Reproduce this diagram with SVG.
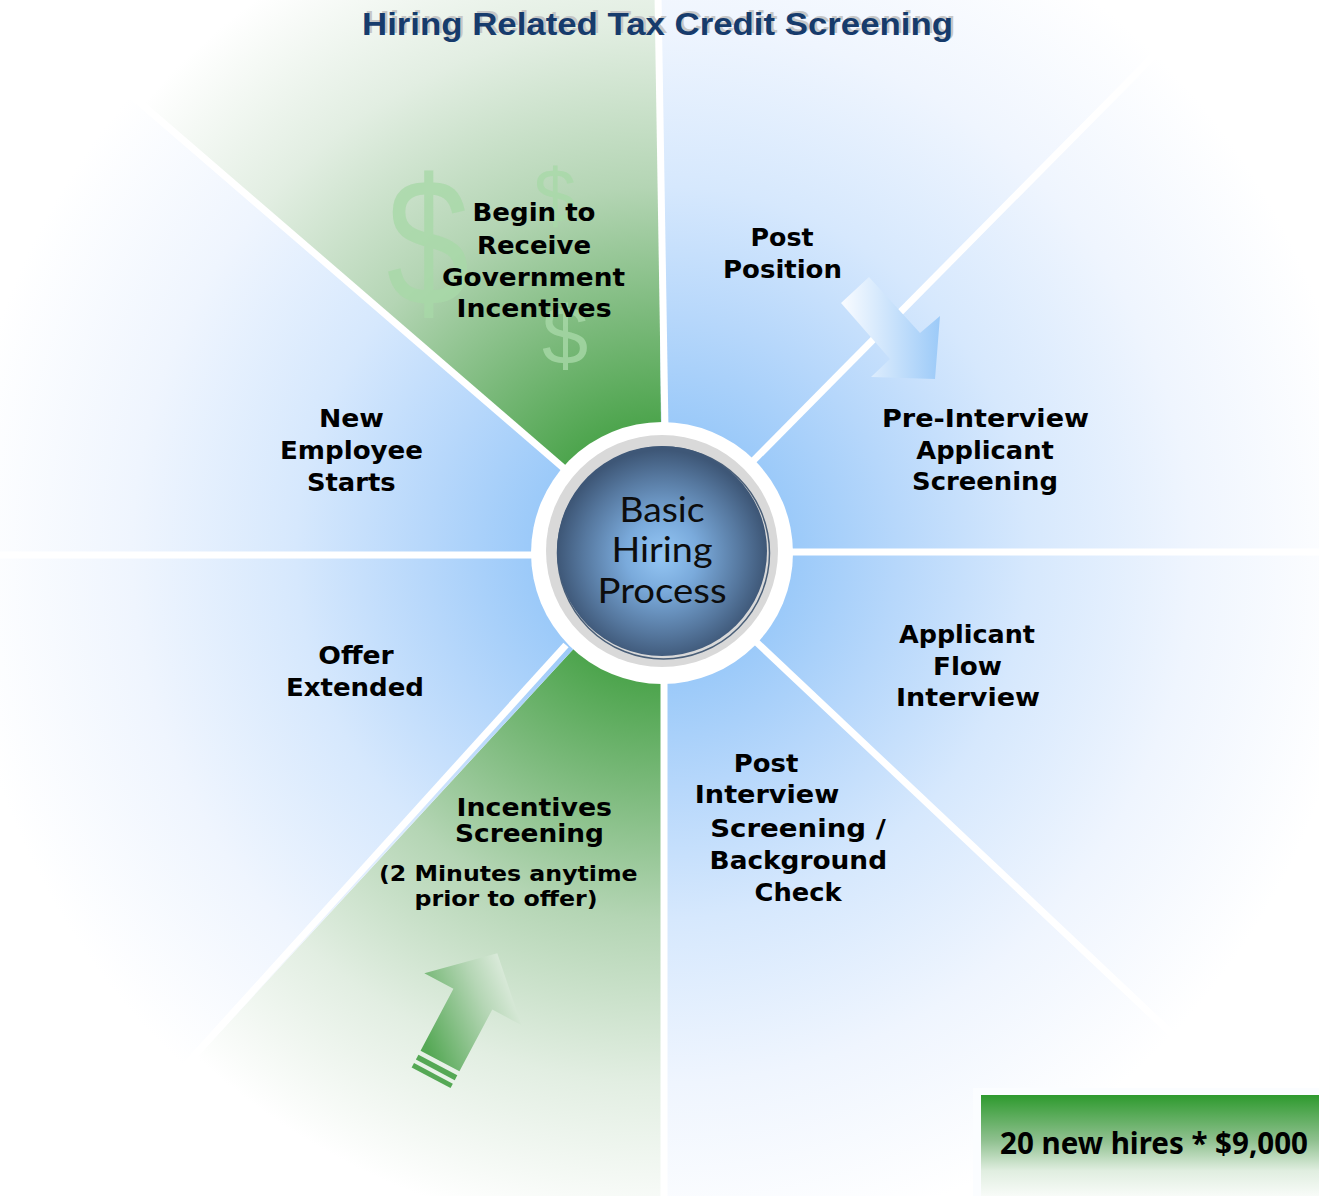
<svg xmlns="http://www.w3.org/2000/svg" width="1319" height="1196" viewBox="0 0 1319 1196">
  <defs>
    <style>
      .lbl{font-family:"DejaVu Sans",Verdana,sans-serif;font-weight:bold;font-size:24px;fill:#000;text-anchor:middle}
      .sm{font-size:21.5px}
      .ctr{font-family:Lato,"Open Sans",sans-serif;font-size:35px;fill:#0d0d0d;text-anchor:middle}
      .div{stroke:#fff;stroke-width:7;fill:none}
      .dol{font-family:"Liberation Sans",Arial,sans-serif;fill:#a8d8a8;fill-opacity:0.8;text-anchor:middle}
    </style>
    <radialGradient id="gBlue" gradientUnits="userSpaceOnUse" cx="662" cy="553" r="780">
      <stop offset="0" stop-color="#9ccaf9"/>
      <stop offset="0.17" stop-color="#9ccaf9"/>
      <stop offset="0.3" stop-color="#b6d7fb"/>
      <stop offset="0.47" stop-color="#d6e8fd"/>
      <stop offset="0.68" stop-color="#eff5fe"/>
      <stop offset="0.9" stop-color="#ffffff"/>
    </radialGradient>
    <radialGradient id="gGreen" gradientUnits="userSpaceOnUse" cx="662" cy="553" r="780">
      <stop offset="0" stop-color="#4ea54e"/>
      <stop offset="0.17" stop-color="#4ea54e"/>
      <stop offset="0.3" stop-color="#7ab97a"/>
      <stop offset="0.47" stop-color="#b4d5b4"/>
      <stop offset="0.68" stop-color="#e2eee2"/>
      <stop offset="0.88" stop-color="#ffffff"/>
    </radialGradient>
    <radialGradient id="gHub" cx="0.5" cy="0.52" r="0.5">
      <stop offset="0" stop-color="#95c7f5"/>
      <stop offset="0.35" stop-color="#7aaadb"/>
      <stop offset="0.75" stop-color="#56789f"/>
      <stop offset="1" stop-color="#3e5777"/>
    </radialGradient>
    <linearGradient id="gArrowBlue" gradientUnits="userSpaceOnUse" x1="845" y1="0" x2="940" y2="0">
      <stop offset="0" stop-color="#f6faff"/>
      <stop offset="1" stop-color="#9ccaf8"/>
    </linearGradient>
    <linearGradient id="gArrowGreen" gradientUnits="userSpaceOnUse" x1="-35" y1="-20" x2="45" y2="-115">
      <stop offset="0" stop-color="#55a855"/>
      <stop offset="0.55" stop-color="#b5d6b5"/>
      <stop offset="1" stop-color="#f4f8f4"/>
    </linearGradient>
    <linearGradient id="gBox" x1="0" y1="0" x2="0" y2="1">
      <stop offset="0" stop-color="#2e9a2e"/>
      <stop offset="0.45" stop-color="#8fc08f"/>
      <stop offset="0.75" stop-color="#e0eee0"/>
      <stop offset="1" stop-color="#f8fbf8"/>
    </linearGradient>
  </defs>

  <rect x="0" y="0" width="1319" height="1196" fill="#fff"/>

  <!-- wedges -->
  <g id="wedge-begin">
    <polygon points="662,553 -95,-100 657,-100" fill="url(#gGreen)"/>
  </g>
  <g id="wedge-post-position">
    <polygon points="662,553 657,-100 1308,-100" fill="url(#gBlue)"/>
  </g>
  <g id="wedge-pre-interview">
    <polygon points="662,553 1308,-100 1460,-100 1460,552" fill="url(#gBlue)"/>
  </g>
  <g id="wedge-applicant-flow">
    <polygon points="662,553 1460,552 1460,1300 1454,1300" fill="url(#gBlue)"/>
  </g>
  <g id="wedge-post-interview">
    <polygon points="662,553 1454,1300 664,1300" fill="url(#gBlue)"/>
  </g>
  <g id="wedge-incentives-screening">
    <polygon points="662,553 664,1300 -27,1300" fill="url(#gGreen)"/>
  </g>
  <g id="wedge-offer">
    <polygon points="662,553 -27,1300 -100,1300 -100,555" fill="url(#gBlue)"/>
  </g>
  <g id="wedge-new-employee">
    <polygon points="662,553 -100,555 -100,-100 -95,-100" fill="url(#gBlue)"/>
  </g>

  <!-- dividers -->
  <g id="dividers">
    <line class="div" x1="665" y1="430" x2="658" y2="-5"/>
    <line class="div" x1="662" y1="553" x2="1308" y2="-100"/>
    <line class="div" x1="662" y1="552" x2="1330" y2="552"/>
    <line class="div" x1="662" y1="553" x2="1454" y2="1300"/>
    <line class="div" x1="664" y1="553" x2="664" y2="1300"/>
    <line class="div" x1="566" y1="645" x2="-27" y2="1300"/>
    <line class="div" x1="662" y1="555" x2="-10" y2="555"/>
    <line class="div" x1="662" y1="553" x2="-95" y2="-100"/>
  </g>

  <!-- dollar signs -->
  <g id="dollars">
    <text class="dol" font-size="182" transform="translate(428,305) scale(0.82,1)">$</text>
    <text class="dol" font-size="76" transform="translate(555,222)">$</text>
    <text class="dol" font-size="83" transform="translate(565,364)">$</text>
  </g>

  <!-- connectors / arrows -->
  <g id="connectors">
    <polygon points="841,303 869,277 920,333 940,316 935,379 871,377 890,359" fill="url(#gArrowBlue)"/>
    <g transform="translate(440,1061) rotate(28)">
      <polygon points="-22,0 -22,-70 -55,-70 0,-122 55,-70 22,-70 22,0" fill="url(#gArrowGreen)"/>
      <rect x="-22" y="4.5" width="44" height="5.5" fill="#55a855"/>
      <rect x="-22" y="14" width="44" height="5" fill="#55a855"/>
    </g>
  </g>

  <!-- hub -->
  <g id="hub">
    <circle cx="662" cy="553" r="131" fill="#fff"/>
    <circle cx="662" cy="551" r="116" fill="#d9d9d9"/>
    <circle cx="663.5" cy="553" r="106" fill="none" stroke="#4a5f78" stroke-width="1.5"/>
    <circle cx="662" cy="551" r="105" fill="url(#gHub)"/>
    <text class="ctr" x="662" y="522" textLength="85" lengthAdjust="spacingAndGlyphs">Basic</text>
    <text class="ctr" x="662" y="562" textLength="101" lengthAdjust="spacingAndGlyphs">Hiring</text>
    <text class="ctr" x="662" y="603" textLength="129" lengthAdjust="spacingAndGlyphs">Process</text>
  </g>

  <!-- labels -->
  <g id="label-begin">
    <text class="lbl" x="534" y="221" textLength="123" lengthAdjust="spacingAndGlyphs">Begin to</text>
    <text class="lbl" x="534" y="253.5" textLength="114" lengthAdjust="spacingAndGlyphs">Receive</text>
    <text class="lbl" x="533.5" y="285.5" textLength="183" lengthAdjust="spacingAndGlyphs">Government</text>
    <text class="lbl" x="534" y="317" textLength="155" lengthAdjust="spacingAndGlyphs">Incentives</text>
  </g>
  <g id="label-post-position">
    <text class="lbl" x="782" y="246" textLength="63" lengthAdjust="spacingAndGlyphs">Post</text>
    <text class="lbl" x="782.5" y="277.5" textLength="119" lengthAdjust="spacingAndGlyphs">Position</text>
  </g>
  <g id="label-pre-interview">
    <text class="lbl" x="985.5" y="427" textLength="207" lengthAdjust="spacingAndGlyphs">Pre-Interview</text>
    <text class="lbl" x="985" y="458.5" textLength="137.5" lengthAdjust="spacingAndGlyphs">Applicant</text>
    <text class="lbl" x="985" y="490" textLength="146" lengthAdjust="spacingAndGlyphs">Screening</text>
  </g>
  <g id="label-applicant-flow">
    <text class="lbl" x="967" y="643" textLength="136" lengthAdjust="spacingAndGlyphs">Applicant</text>
    <text class="lbl" x="967.5" y="675" textLength="69" lengthAdjust="spacingAndGlyphs">Flow</text>
    <text class="lbl" x="968" y="706" textLength="144" lengthAdjust="spacingAndGlyphs">Interview</text>
  </g>
  <g id="label-post-interview">
    <text class="lbl" x="766" y="772" textLength="64.5" lengthAdjust="spacingAndGlyphs">Post</text>
    <text class="lbl" x="767" y="803" textLength="144.5" lengthAdjust="spacingAndGlyphs">Interview</text>
    <text class="lbl" x="798" y="837" textLength="175.6" lengthAdjust="spacingAndGlyphs">Screening /</text>
    <text class="lbl" x="798.3" y="869" textLength="177.4" lengthAdjust="spacingAndGlyphs">Background</text>
    <text class="lbl" x="798" y="901" textLength="87" lengthAdjust="spacingAndGlyphs">Check</text>
  </g>
  <g id="label-incentives-screening">
    <text class="lbl" x="534.3" y="816" textLength="155.4" lengthAdjust="spacingAndGlyphs">Incentives</text>
    <text class="lbl" x="529.5" y="842" textLength="149" lengthAdjust="spacingAndGlyphs">Screening</text>
    <text class="lbl sm" x="508.3" y="881" textLength="258.6" lengthAdjust="spacingAndGlyphs">(2 Minutes anytime</text>
    <text class="lbl sm" x="506" y="906" textLength="183" lengthAdjust="spacingAndGlyphs">prior to offer)</text>
  </g>
  <g id="label-offer">
    <text class="lbl" x="356" y="664" textLength="75.5" lengthAdjust="spacingAndGlyphs">Offer</text>
    <text class="lbl" x="355" y="695.5" textLength="138" lengthAdjust="spacingAndGlyphs">Extended</text>
  </g>
  <g id="label-new-employee">
    <text class="lbl" x="351.5" y="427" textLength="65" lengthAdjust="spacingAndGlyphs">New</text>
    <text class="lbl" x="351.5" y="459" textLength="143" lengthAdjust="spacingAndGlyphs">Employee</text>
    <text class="lbl" x="351.3" y="491" textLength="88.6" lengthAdjust="spacingAndGlyphs">Starts</text>
  </g>

  <!-- title -->
  <g id="title">
    <text x="660" y="32.5" font-family="'Liberation Sans',Arial,sans-serif" font-weight="bold" font-size="32" fill="#c6c6c6" text-anchor="middle" textLength="591" lengthAdjust="spacingAndGlyphs">Hiring Related Tax Credit Screening</text>
    <text x="657.5" y="35" font-family="'Liberation Sans',Arial,sans-serif" font-weight="bold" font-size="32" fill="#163b6c" text-anchor="middle" textLength="591" lengthAdjust="spacingAndGlyphs">Hiring Related Tax Credit Screening</text>
  </g>

  <!-- total box -->
  <g id="total-box">
    <rect x="973" y="1088" width="346" height="108" fill="#fbfdff"/>
    <rect x="981" y="1095" width="338" height="101" fill="url(#gBox)"/>
    <text x="1000" y="1154" font-family="'Noto Sans','Open Sans',sans-serif" font-weight="bold" font-size="31" fill="#000" textLength="308" lengthAdjust="spacingAndGlyphs">20 new hires * $9,000</text>
  </g>
</svg>
